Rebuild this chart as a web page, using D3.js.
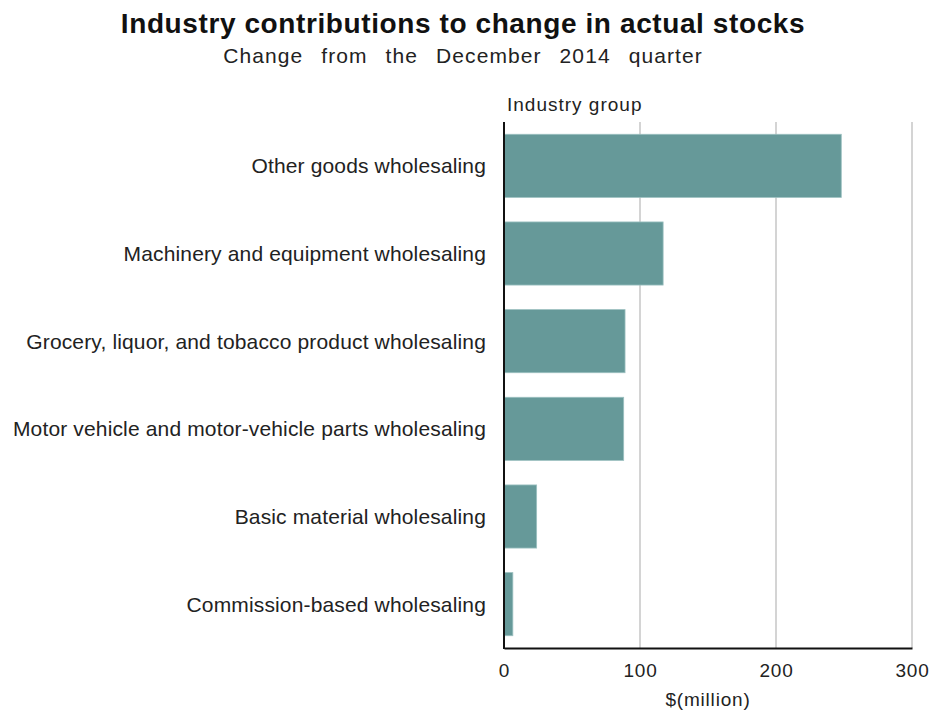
<!DOCTYPE html>
<html>
<head>
<meta charset="utf-8">
<script src="https://cdn.jsdelivr.net/npm/d3@7"></script>
<style>
  body { margin: 0; background: #fff; }
  text { font-family: "Liberation Sans", Arial, sans-serif; fill: #222; }
</style>
</head>
<body>
<svg id="chart"></svg>
<script>
// data
const categories = [
  'Other goods wholesaling',
  'Machinery and equipment wholesaling',
  'Grocery, liquor, and tobacco product wholesaling',
  'Motor vehicle and motor-vehicle parts wholesaling',
  'Basic material wholesaling',
  'Commission-based wholesaling'
];
const values = [248, 117, 89, 88, 24, 6.5];
const xTicks = [0, 100, 200, 300];

const width = 931;
const height = 711;
const margin = { top: 122, right: 20, bottom: 63, left: 504 };

const svg = d3.select('#chart')
  .attr('width', width)
  .attr('height', height);

const data = categories.map((c, i) => ({ name: c, value: values[i] }));

const x = d3.scaleLinear()
  .domain([0, 300])
  .range([margin.left, 912]);

const y = d3.scaleBand()
  .domain(categories)
  .range([margin.top, height - margin.bottom])
  .paddingInner(0.28)
  .paddingOuter(0.14);

// title
svg.append('text')
  .attr('x', 463).attr('y', 33)
  .attr('text-anchor', 'middle')
  .style('font-size', '28px')
  .style('font-weight', 'bold')
  .style('letter-spacing', '0.6px')
  .style('fill', '#111')
  .text('Industry contributions to change in actual stocks');

svg.append('text')
  .attr('x', 463).attr('y', 63)
  .attr('text-anchor', 'middle')
  .style('font-size', '21px')
  .style('letter-spacing', '1.1px')
  .style('word-spacing', '11px')
  .text('Change from the December 2014 quarter');

svg.append('text')
  .attr('x', 507).attr('y', 111)
  .style('font-size', '19px')
  .style('letter-spacing', '1px')
  .text('Industry group');

// gridlines
svg.append('g')
  .selectAll('line')
  .data(xTicks.slice(1))
  .join('line')
  .attr('x1', d => x(d)).attr('x2', d => x(d))
  .attr('y1', margin.top).attr('y2', height - margin.bottom)
  .attr('stroke', '#d4d4d4')
  .attr('stroke-width', 2);

// bars
svg.append('g')
  .selectAll('rect')
  .data(data)
  .join('rect')
  .attr('x', x(0))
  .attr('y', d => y(d.name))
  .attr('width', d => x(d.value) - x(0))
  .attr('height', y.bandwidth())
  .attr('fill', '#669999')
  .attr('stroke', '#9cc0c0')
  .attr('stroke-width', 0.8);

// category labels
svg.append('g')
  .selectAll('text')
  .data(data)
  .join('text')
  .attr('x', 486)
  .attr('y', d => y(d.name) + y.bandwidth() / 2)
  .attr('dy', '0.35em')
  .attr('text-anchor', 'end')
  .style('font-size', '21px')
  .style('letter-spacing', '0.15px')
  .text(d => d.name);

// axes
const xAxis = svg.append('g')
  .attr('transform', `translate(0,${height - margin.bottom})`)
  .call(d3.axisBottom(x).tickValues(xTicks).tickSize(0).tickPadding(16));
xAxis.select('.domain').attr('stroke', '#111').attr('stroke-width', 2);
xAxis.selectAll('text')
  .style('font-size', '19px')
  .style('letter-spacing', '0.8px')
  .style('font-family', '"Liberation Sans", Arial, sans-serif')
  .attr('fill', '#222');

svg.append('line')
  .attr('x1', x(0)).attr('x2', x(0))
  .attr('y1', margin.top).attr('y2', height - margin.bottom + 1)
  .attr('stroke', '#111')
  .attr('stroke-width', 2);

svg.append('text')
  .attr('x', (x(0) + x(300)) / 2).attr('y', 706)
  .attr('text-anchor', 'middle')
  .style('font-size', '19px')
  .style('letter-spacing', '0.8px')
  .text('$(million)');
</script>
</body>
</html>
